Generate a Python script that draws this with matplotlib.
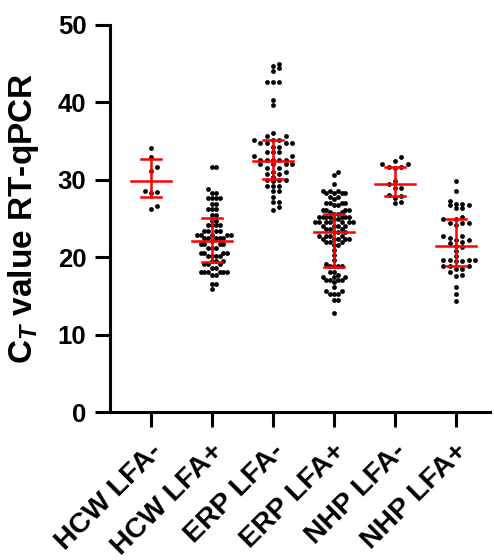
import numpy as np
import matplotlib.pyplot as plt
import matplotlib.transforms as mtransforms

plt.rcParams['font.family'] = ['Liberation Sans', 'DejaVu Sans']
plt.rcParams['font.weight'] = 'bold'
plt.rcParams['mathtext.fontset'] = 'custom'
plt.rcParams['mathtext.rm'] = 'Liberation Sans:bold'
plt.rcParams['mathtext.it'] = 'Liberation Sans:bold:italic'

# group names
groups = ['HCW LFA-', 'HCW LFA+', 'ERP LFA-', 'ERP LFA+', 'NHP LFA-', 'NHP LFA+']

# CT values per group
hcw_neg = [34.1, 33.0, 31.6, 31.1, 28.6, 28.4, 28.3, 26.6, 26.2]
hcw_pos = [31.6, 31.6, 28.8, 28.3, 28.3, 27.6, 27.6, 27.6, 27.6, 26.9, 26.9,
           26.2, 26.2, 26.2, 25.5, 25.5, 24.7, 24.7, 24.1, 24.1, 24.1, 24.1,
           23.4, 23.4, 23.4, 23.4, 22.9, 22.9, 22.9, 22.9, 22.9, 22.5, 22.5,
           22.5, 22.5, 22.5, 22.1, 21.7, 21.7, 21.7, 21.7, 21.2, 21.2, 21.2,
           20.6, 20.6, 20.6, 20.6, 20.1, 20.1, 20.1, 20.1, 19.5, 19.5, 19.5,
           19.1, 19.1, 19.1, 18.6, 18.6, 18.1, 18.1, 18.1, 18.1, 18.1, 18.1,
           17.7, 17.7, 16.6, 16.6, 15.9]
erp_neg = [45.0, 44.7, 44.4, 44.1, 42.6, 42.6, 42.6, 40.3, 39.6, 36.0, 35.6,
           35.6, 35.1, 35.1, 35.1, 34.7, 34.7, 34.7, 34.7, 34.2, 34.2, 33.6,
           33.6, 33.6, 33.1, 33.1, 32.6, 32.6, 32.6, 32.6, 32.6, 32.0, 32.0,
           32.0, 32.0, 31.5, 31.5, 31.0, 31.0, 30.7, 30.7, 30.4, 30.0, 30.0,
           30.0, 29.8, 29.2, 29.2, 29.2, 28.6, 28.6, 27.8, 27.1, 27.1, 26.5,
           26.1]
erp_pos = [31.0, 30.6, 29.4, 28.6, 28.6, 28.6, 28.3, 28.3, 28.3, 28.3, 27.8,
           27.8, 27.5, 27.0, 27.0, 27.0, 27.0, 26.7, 26.7, 26.1, 26.1, 26.1,
           26.1, 25.8, 25.8, 25.6, 25.6, 25.2, 25.2, 25.2, 25.2, 25.2, 25.2,
           25.2, 24.9, 24.9, 24.5, 24.5, 24.5, 24.5, 24.5, 24.5, 24.5, 24.0,
           24.0, 24.0, 24.0, 23.7, 23.7, 23.7, 23.2, 23.2, 23.2, 22.7, 22.7,
           22.7, 22.7, 22.4, 22.4, 22.4, 22.4, 22.4, 21.9, 21.9, 21.9, 21.6,
           21.6, 20.9, 20.3, 19.7, 19.1, 18.8, 18.8, 18.8, 18.8, 18.1, 18.1,
           17.7, 17.4, 17.4, 17.4, 17.1, 17.1, 17.1, 17.1, 16.8, 16.1, 15.6,
           15.6, 15.2, 15.2, 15.2, 14.5, 14.5, 12.8]
nhp_neg = [32.9, 32.4, 32.0, 32.0, 31.7, 31.6, 31.5, 29.8, 29.4, 29.0, 29.0,
           28.1, 27.9, 27.6, 27.1, 27.0]
nhp_pos = [29.8, 28.6, 27.3, 26.9, 26.9, 26.7, 26.7, 26.3, 26.3, 25.2, 24.9,
           24.9, 24.4, 24.4, 24.4, 24.2, 22.7, 22.7, 22.5, 22.2, 22.2, 22.0,
           21.8, 21.5, 21.3, 20.8, 20.2, 19.7, 19.7, 19.7, 19.7, 19.5, 19.5,
           18.8, 18.8, 18.8, 18.5, 18.5, 18.1, 17.7, 17.6, 16.1, 15.2, 14.4]

# median and interquartile range drawn in red
medians = [29.8, 22.1, 32.4, 23.3, 29.4, 21.5]
q1 = [27.8, 19.4, 30.1, 18.7, 27.9, 18.8]
q3 = [32.7, 25.1, 35.1, 25.6, 31.7, 25.0]

all_data = [hcw_neg, hcw_pos, erp_neg, erp_pos, nhp_neg, nhp_pos]

W, H = 494, 560
ax_box = [110, 25, 490, 412]  # pixel box of the plot area
xlim = (-0.672, 5.557)
ylim = (0, 50)
px_x = (ax_box[2] - ax_box[0]) / (xlim[1] - xlim[0])
px_y = (ax_box[3] - ax_box[1]) / (ylim[1] - ylim[0])


# place points on half-step columns; two points clash when they are
# closer than sx sideways AND closer than sy vertically (pixels)
def layout(vals, sx, sy=4.4):
    offs = np.zeros(len(vals))
    placed = []
    for i in np.argsort(vals):
        y = vals[i] * px_y
        k = 0
        while True:
            cands = [0.0] if k == 0 else [k * sx / 2, -k * sx / 2]
            c = None
            for cc in cands:
                if all(abs(cc - px) > sx - 1e-6 or abs(y - py) >= sy
                       for px, py in placed):
                    c = cc
                    break
            if c is not None:
                break
            k += 1
        placed.append((c, y))
        offs[i] = c
    return offs


# shrink the column spacing until the group fits its width
def swarm(vals, max_half=19.5):
    vals = np.asarray(vals, dtype=float)
    sx = 6.4
    offs = layout(vals, sx)
    while np.abs(offs).max() > max_half and sx > 3.0:
        sx -= 0.2
        offs = layout(vals, sx)
    return offs / px_x


fig = plt.figure(figsize=(W / 100, H / 100), dpi=100)
ax = fig.add_axes([ax_box[0] / W, 1 - ax_box[3] / H,
                   (ax_box[2] - ax_box[0]) / W, (ax_box[3] - ax_box[1]) / H])

for i, vals in enumerate(all_data):
    ax.scatter(i + swarm(vals), vals, s=12, color='black', lw=0, zorder=2)
    ax.plot([i - 0.33, i + 0.33], [medians[i]] * 2, color='red', lw=1.8, zorder=3)
    ax.plot([i - 0.165, i + 0.165], [q1[i]] * 2, color='red', lw=1.8, zorder=3)
    ax.plot([i - 0.165, i + 0.165], [q3[i]] * 2, color='red', lw=1.8, zorder=3)
    ax.plot([i, i], [q1[i], q3[i]], color='red', lw=1.8, zorder=3)

ax.set_xlim(*xlim)
ax.set_ylim(*ylim)
ax.set_yticks(np.arange(0, 51, 10))
ax.set_xticks(range(len(groups)))
ax.set_xticklabels(groups, rotation=45, ha='right', va='center',
                   rotation_mode='anchor')
for s in ['top', 'right']:
    ax.spines[s].set_visible(False)
for s in ['left', 'bottom']:
    ax.spines[s].set_linewidth(2.2)
ax.tick_params(axis='both', length=11, width=2.2)
ax.tick_params(axis='y', pad=6, labelsize=18.5)
ax.tick_params(axis='x', pad=15, labelsize=20.5)
# nudge the slanted labels a bit to the right
shift = mtransforms.ScaledTranslation(5 / 72, 0, fig.dpi_scale_trans)
for lab in ax.get_xticklabels():
    lab.set_transform(lab.get_transform() + shift)
ax.set_ylabel(r'C$_{T}$ value RT-qPCR', fontsize=24, fontweight='bold', labelpad=12)

fig.savefig('out.png', dpi=100)
